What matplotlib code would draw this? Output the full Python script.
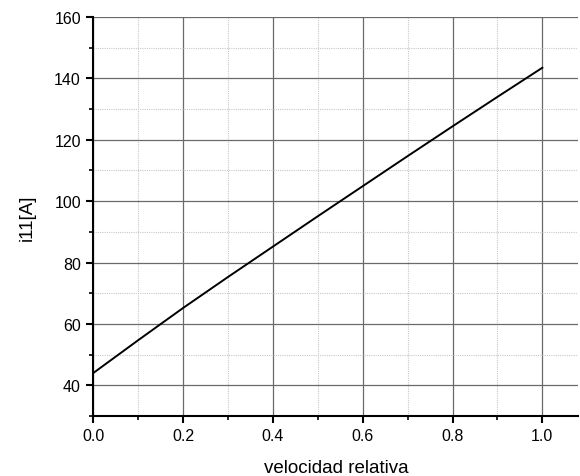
import matplotlib
matplotlib.use("Agg")
import matplotlib.pyplot as plt
from matplotlib.ticker import MultipleLocator

# relative speed vs. current i11
velocidad = [0.0, 0.1, 0.2, 0.3, 0.4, 0.5, 0.6, 0.7, 0.8, 0.9, 1.0]
corriente = [44.0, 54.7, 65.2, 75.3, 85.2, 95.1, 104.9, 114.7, 124.4, 134.0, 143.5]

plt.rcParams['font.family'] = ['Liberation Sans', 'DejaVu Sans']

fig = plt.figure(figsize=(5.8, 4.77), dpi=100)
ax = fig.add_axes([0.161, 0.126, 0.836, 0.836])

ax.plot(velocidad, corriente, color='black', lw=1.4, zorder=3)

ax.set_xlim(0.0, 1.08)
ax.set_ylim(30, 160)
ax.xaxis.set_major_locator(MultipleLocator(0.2))
ax.xaxis.set_minor_locator(MultipleLocator(0.1))
ax.yaxis.set_major_locator(MultipleLocator(20))
ax.yaxis.set_minor_locator(MultipleLocator(10))
ax.set_xticks([0.0, 0.2, 0.4, 0.6, 0.8, 1.0])
ax.set_xticklabels(['0.0', '0.2', '0.4', '0.6', '0.8', '1.0'])
ax.set_yticks([40, 60, 80, 100, 120, 140, 160])

ax.grid(which='major', color='#6a6a6a', lw=0.9, ls='-')
ax.grid(which='minor', color='#c8c8c8', lw=0.8, ls=(0, (1, 1)))
ax.set_axisbelow(True)

for s in ('top', 'right'):
    ax.spines[s].set_visible(False)
for s in ('left', 'bottom'):
    ax.spines[s].set_linewidth(1.5)
    ax.spines[s].set_color('black')

ax.tick_params(which='major', direction='out', length=5, width=1.5, labelsize=11.5,
               colors='black', pad=4)
ax.tick_params(which='minor', direction='out', length=3, width=1.2)

ax.set_xlabel('velocidad relativa', fontsize=13.5, labelpad=11)
ax.set_ylabel('i11[A]', fontsize=13.5, labelpad=13)

fig.savefig('out.png', dpi=100)
